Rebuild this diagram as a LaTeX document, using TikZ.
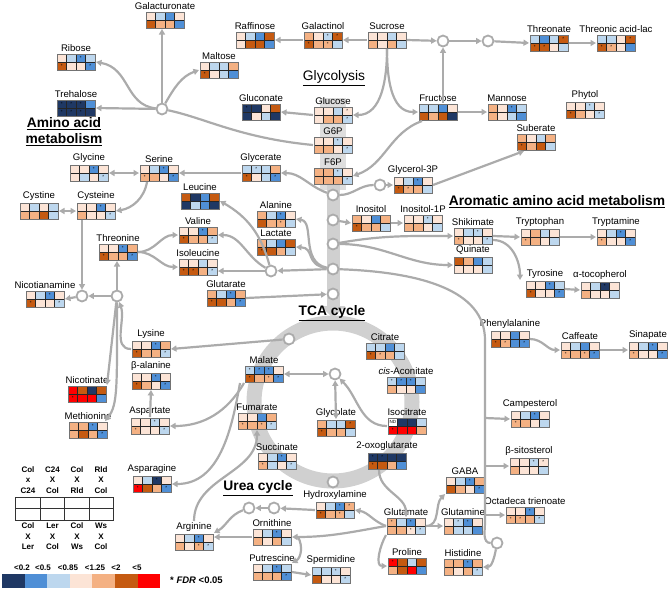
\documentclass[tikz,border=0pt]{standalone}
\usepackage{fontspec}
\setmainfont{Liberation Sans}
\usetikzlibrary{arrows.meta,calc}
\definecolor{hmA}{HTML}{1F3864}\definecolor{hma}{HTML}{1F3864}
\definecolor{hmB}{HTML}{4F8FD6}\definecolor{hmb}{HTML}{4F8FD6}
\definecolor{hmC}{HTML}{BDD7EE}\definecolor{hmc}{HTML}{BDD7EE}
\definecolor{hmD}{HTML}{FCE4D6}\definecolor{hmd}{HTML}{FCE4D6}
\definecolor{hmE}{HTML}{F4B183}\definecolor{hme}{HTML}{F4B183}
\definecolor{hmF}{HTML}{C55A11}\definecolor{hmf}{HTML}{C55A11}
\definecolor{hmG}{HTML}{FF0000}\definecolor{hmg}{HTML}{FF0000}
\definecolor{hmN}{HTML}{FFFFFF}
\definecolor{arrowgray}{HTML}{ABABAB}
\definecolor{bandgray}{HTML}{D0D0D0}
\def\hmTa{*}\def\hmTb{*}\def\hmTc{*}\def\hmTd{*}\def\hmTe{*}\def\hmTf{*}\def\hmTg{*}\def\hmTN{ND}
\tikzset{
  conn/.style={draw=arrowgray, line width=2.2pt, -{Triangle[length=5.5pt,width=6pt]}},
  conntwo/.style={draw=arrowgray, line width=2.2pt, {Triangle[length=5.5pt,width=6pt]}-{Triangle[length=5.5pt,width=6pt]}},
  plain/.style={draw=arrowgray, line width=2.2pt},
  hub/.style={circle, draw=arrowgray, fill=white, line width=1.8pt, minimum size=11pt, inner sep=0pt},
  hmbox/.style={minimum width=38pt, minimum height=16pt, inner sep=0pt, outer sep=1pt},
  lbl/.style={font=\fontsize{9.6}{10}\selectfont, inner sep=1pt},
  head/.style={font=\fontsize{13.8}{16}\selectfont\bfseries, align=center, inner sep=0pt},
  startxt/.style={font=\fontsize{4.5}{4.5}\selectfont, inner sep=0pt},
  cellline/.style={draw=black!85, line width=0.5pt},
  boxframe/.style={draw=black!55, line width=1pt},
  legtxt/.style={font=\fontsize{8}{10.5}\selectfont\bfseries, align=center, inner sep=0pt},
}
\newcommand\hmcell[3]{%
  \fill[hm#3] (#1,#2) rectangle ++(9.5,8);
  \ifcsname hmT#3\endcsname
    \node[startxt] at (#1+4.75,#2+4.2) {\csname hmT#3\endcsname};
  \fi}
\newcommand\hm[6]{%
  \node[hmbox, label={[lbl]above:#4}] (#1) at (#2+19,#3+8) {};
  \foreach \cc [count=\ii from 0] in {#5} {\hmcell{#2+\ii*9.5}{#3}{\cc}}
  \foreach \cc [count=\ii from 0] in {#6} {\hmcell{#2+\ii*9.5}{#3+8}{\cc}}
  \foreach \kk in {1,2,3} {\draw[cellline] (#2+\kk*9.5,#3) -- ++(0,16);}
  \draw[cellline] (#2,#3+8) -- ++(38,0);
  \draw[boxframe] (#2,#3) rectangle (#2+38,#3+16);
}
\begin{document}
\begin{tikzpicture}[x=1pt,y=-1pt]
\useasboundingbox (0,0) rectangle (669,590);
% ---- trunk and TCA ring
\fill[bandgray!70] (320,98) rectangle (346,190);
\draw[bandgray, line width=15pt] (333,402) circle (79);
\draw[bandgray, line width=13pt, -{Triangle[length=12pt,width=24pt]}] (333,185) -- (333,318);
% ---- hubs
\node[hub] (hsa) at (443,41) {};
\node[hub] (hsb) at (488,41) {};
\node[hub] (htre) at (162,109) {};
\node[hub] (hgp) at (380,185) {};
\node[hub] (ta) at (333,195) {};
\node[hub] (tb) at (333,220) {};
\node[hub] (tc) at (333,244) {};
\node[hub] (td) at (333,269) {};
\node[hub] (te) at (333,294) {};
\node[hub] (hbc) at (271,271) {};
\node[hub] (hasp) at (117,296) {};
\node[hub] (hnic) at (82,296) {};
\node[hub] (htca) at (289,339) {};
\node[hub] (hgly) at (335,374) {};
\node[hub] (hua) at (249,508) {};
\node[hub] (hub) at (274,508) {};
\node[hub] (hbot) at (333,482) {};
\node[hub] (hright) at (497,543) {};
% ---- headings
\node[head] (hglyc) at (334,78) {\mdseries\underline{Glycolysis}};
\node[head] (hamino) at (64,132) {\underline{Amino acid}\\[0pt]\underline{metabolism}};
\node[head] (harom) at (557,202) {\underline{Aromatic amino acid metabolism}};
\node[head] (htcac) at (332,313) {\underline{TCA cycle}};
\node[head] (hurea) at (258,488) {\underline{Urea cycle}};
% ---- heatmaps
\hm{galacturonate}{146}{12}{Galacturonate}{D,C,B,D}{F,E,E,B}
\hm{ribose}{57}{54}{Ribose}{D,C,b,C}{f,D,D,b}
\hm{trehalose}{57}{100}{Trehalose}{a,a,a,B}{a,a,a,A}
\hm{raffinose}{236}{32}{Raffinose}{D,C,B,F}{D,F,F,B}
\hm{galactinol}{304}{32}{Galactinol}{E,D,c,f}{f,E,e,C}
\hm{sucrose}{368}{32}{Sucrose}{D,D,C,D}{E,D,E,C}
\hm{threonate}{530}{35}{Threonate}{C,B,C,f}{f,f,D,C}
\hm{threonic}{597}{35}{Threonic acid-lac}{C,C,D,f}{f,e,D,B}
\hm{maltose}{200}{62}{Maltose}{D,C,C,E}{f,D,C,B}
\hm{gluconate}{242}{104}{Gluconate}{a,A,D,F}{A,D,C,A}
\hm{glucose}{314}{107}{Glucose}{D,D,C,d}{D,E,E,c}
\hm{gsixp}{314}{137}{G6P}{D,D,c,D}{E,E,D,c}
\hm{fsixp}{314}{168}{F6P}{E,E,c,D}{E,E,E,c}
\hm{fructose}{419}{104}{Fructose}{C,C,B,D}{F,E,F,A}
\hm{mannose}{488}{104}{Mannose}{E,D,b,C}{E,D,C,B}
\hm{phytol}{566}{102}{Phytol}{D,D,c,D}{f,E,D,c}
\hm{suberate}{517}{134}{Suberate}{E,D,C,E}{f,E,F,C}
\hm{glycerolp}{394}{177}{Glycerol-3P}{D,C,b,D}{f,e,E,C}
\hm{glycine}{70}{165}{Glycine}{D,D,b,D}{D,C,D,c}
\hm{serine}{140}{165}{Serine}{D,C,b,D}{e,E,D,b}
\hm{glycerate}{242}{165}{Glycerate}{C,c,C,E}{f,D,C,b}
\hm{leucine}{181}{193}{Leucine}{F,A,B,F}{A,C,B,A}
\hm{cystine}{20}{203}{Cystine}{D,C,D,C}{E,E,F,C}
\hm{cysteine}{77}{203}{Cysteine}{D,D,b,D}{E,D,D,c}
\hm{alanine}{257}{211}{Alanine}{E,C,b,D}{F,E,e,C}
\hm{inositol}{352}{215}{Inositol}{E,D,B,E}{f,E,E,C}
\hm{inositolp}{404}{215}{Inositol-1P}{D,D,c,D}{E,E,D,C}
\hm{valine}{179}{227}{Valine}{D,D,b,E}{f,E,E,c}
\hm{shikimate}{454}{228}{Shikimate}{D,C,c,D}{e,D,D,c}
\hm{tryptophan}{521}{229}{Tryptophan}{D,E,C,D}{e,E,D,C}
\hm{tryptamine}{597}{229}{Tryptamine}{D,C,b,D}{e,D,D,b}
\hm{lactate}{257}{239}{Lactate}{E,C,B,F}{f,F,E,C}
\hm{threonine}{99}{244}{Threonine}{D,D,b,E}{f,E,E,b}
\hm{quinate}{454}{257}{Quinate}{F,E,B,C}{D,D,D,C}
\hm{isoleucine}{179}{259}{Isoleucine}{D,D,C,D}{f,f,E,c}
\hm{tyrosine}{526}{281}{Tyrosine}{D,D,b,C}{f,D,D,b}
\hm{tocopherol}{581}{282}{α-tocopherol}{D,C,a,D}{E,D,D,C}
\hm{glutarate}{207}{290}{Glutarate}{E,C,b,E}{f,F,E,b}
\hm{nicotianamine}{26}{291}{Nicotianamine}{D,C,b,D}{f,D,D,c}
\hm{phenylalanine}{491}{331}{Phenylalanine}{D,D,B,D}{f,e,B,b}
\hm{lysine}{132}{341}{Lysine}{D,D,b,E}{f,E,E,c}
\hm{caffeate}{561}{342}{Caffeate}{D,C,B,D}{e,E,e,b}
\hm{sinapate}{629}{342}{Sinapate}{D,C,b,D}{e,D,D,b}
\hm{citrate}{366}{343}{Citrate}{C,C,B,C}{f,e,E,C}
\hm{malate}{245}{366}{Malate}{c,b,b,D}{f,E,e,b}
\hm{betaala}{132}{373}{β-alanine}{D,D,b,D}{f,E,D,b}
\hm{cisacon}{387}{377}{\textit{cis}-Aconitate}{c,b,b,C}{E,D,D,B}
\hm{nicotinate}{68}{386}{Nicotinate}{G,F,A,F}{g,G,G,B}
\hm{campesterol}{511}{411}{Campesterol}{D,C,b,D}{e,E,D,C}
\hm{fumarate}{238}{413}{Fumarate}{D,D,B,E}{e,E,e,c}
\hm{aspartate}{131}{418}{Aspartate}{D,D,c,D}{e,D,D,c}
\hm{isocitrate}{388}{418}{Isocitrate}{N,A,A,C}{g,G,G,E}
\hm{glycolate}{317}{420}{Glycolate}{E,C,C,f}{f,E,E,C}
\hm{methionine}{69}{422}{Methionine}{E,E,b,D}{E,F,E,b}
\hm{succinate}{258}{453}{Succinate}{D,C,b,D}{e,C,D,c}
\hm{oxoglut}{368}{453}{2-oxoglutarate}{a,a,A,A}{f,F,E,B}
\hm{sitosterol}{510}{458}{β-sitosterol}{D,D,c,d}{E,D,D,C}
\hm{asparagine}{133}{476}{Asparagine}{D,C,a,D}{g,F,E,b}
\hm{gaba}{446}{477}{GABA}{D,C,b,E}{F,E,D,b}
\hm{hydroxyl}{316}{502}{Hydroxylamine}{D,C,b,e}{f,E,e,C}
\hm{octadeca}{506}{507}{Octadeca trienoate}{D,D,b,D}{e,e,E,c}
\hm{glutamate}{387}{518}{Glutamate}{e,C,b,D}{E,E,d,c}
\hm{glutamine}{444}{518}{Glutamine}{D,c,b,D}{E,C,C,B}
\hm{ornithine}{253}{529}{Ornithine}{D,C,b,D}{E,D,E,C}
\hm{arginine}{175}{534}{Arginine}{D,C,b,D}{E,D,e,c}
\hm{proline}{388}{558}{Proline}{g,F,C,F}{E,F,G,B}
\hm{histidine}{444}{559}{Histidine}{E,E,b,E}{E,D,E,c}
\hm{putrescine}{253}{564}{Putrescine}{D,C,b,C}{E,E,E,b}
\hm{spermidine}{312}{567}{Spermidine}{C,C,c,D}{F,D,D,c}
% ---- connectors: sugars
\draw[conn] (sucrose.west) -- (galactinol.east);
\draw[conn] (galactinol.west) -- (raffinose.east);
\draw[conn] (sucrose.east) -- (hsa);
\draw[conn] (hsa) -- (hsb);
\draw[conn] (hsb) -- (threonate.west);
\draw[conn] (threonate.east) -- (threonic.west);
\draw[conn] (hsa |- fructose.north) -- (hsa);
\draw[conn] (sucrose.south) to[out=-90,in=0] (glucose.east);
\draw[conn] (sucrose.south) to[out=-90,in=180] (fructose.west);
\draw[conn] (fructose.east) -- (mannose.west);
\draw[conn] ([xshift=4pt]fructose.south west) to[out=200,in=20] (fsixp.east);
\draw[conn] (glucose.west) -- (gluconate.east);
\draw[plain] (gsixp.west) .. controls (240,138) and (205,118) .. (htre);
\draw[conn] (htre) -- (trehalose.east);
\draw[conn] (htre) .. controls (125,105) and (130,68) .. (ribose.east);
\draw[conn] (htre) -- (htre |- galacturonate.south);
\draw[conn] (htre) to[out=60,in=200] (maltose.west);
\draw[plain] (ta) to[out=0,in=180] (hgp);
\draw[conn] (hgp) -- (glycerolp.west);
\draw[conn] (glycerolp.east) -- ([xshift=8pt]suberate.south west);
% ---- amino acids
\draw[conn] (ta) to[out=160,in=0] (glycerate.east);
\draw[conn] (glycerate.west) -- (serine.east);
\draw[conntwo] (glycine.east) -- (serine.west);
\draw[conn] ([xshift=8pt]serine.south west) to[out=-100,in=10] (cysteine.east);
\draw[conntwo] (cystine.east) -- (cysteine.west);
\draw[conn] (hnic |- cysteine.south) -- (hnic);
\draw[conn] (hasp) -- (hnic);
\draw[conn] (hnic) -- (nicotianamine.east);
\draw[conn] (hasp) -- (hasp |- threonine.south);
\draw[conn] (threonine.east) to[out=0,in=180] (valine.west);
\draw[conn] (threonine.east) to[out=0,in=180] (isoleucine.west);
\draw[conn] (td) -- (hbc);
\draw[conn] (hbc) -- (hbc -| isoleucine.east);
\draw[conn] (hbc) to[out=150,in=0] (valine.east);
\draw[conn] (hbc) to[out=105,in=-30] (leucine.east);
\draw[conn] (td) .. controls (300,262) and (315,222) .. (alanine.east);
\draw[conn] (td) .. controls (305,265) and (315,248) .. (lactate.east);
\draw[conn] (tb) -- (inositol.west);
\draw[conn] (inositol.east) -- (inositolp.west);
\draw[conn] (tc) to[out=10,in=180] (shikimate.west);
\draw[conn] (tc) to[out=0,in=180] (quinate.west);
\draw[conn] (shikimate.east) -- (tryptophan.west);
\draw[conn] (tryptophan.east) -- (tryptamine.west);
\draw[conn] ([yshift=-4pt]shikimate.east) to[out=0,in=90] ([xshift=-5pt]tyrosine.north west);
\draw[conn] (tyrosine.east) -- (tocopherol.west);
\draw[conn] (phenylalanine.east) to[out=0,in=180] (caffeate.west);
\draw[conn] (caffeate.east) -- (sinapate.west);
\draw[conn] (glutarate.east) -- (te);
\draw[conn] (htca) -- (lysine.east);
\draw[conn] (lysine.west) to[out=180,in=-70] (hasp);
\draw[conn] (hasp) -- (nicotinate.north east);
\draw[conn] (hasp) .. controls (117,385) and (118,405) .. ([xshift=-3pt]methionine.north east);
\draw[conn] (aspartate.north) -- (betaala.south);
% ---- right line
\draw[plain] (td) .. controls (420,272) and (485,290) .. (485,340) -- (485,522) to[out=-90,in=180] (hright);
\draw[conn] (485,418) -- (campesterol.west);
\draw[conn] (485,466) -- (sitosterol.west);
\draw[conn] (485,515) -- (octadeca.west);
% ---- TCA
\draw[conntwo] (malate.east) -- (hgly);
\draw[conntwo] (hgly) -- (glycolate.north);
\draw[conn] (isocitrate.west) to[out=180,in=-45] (hgly);
\draw[conn] ([xshift=-8pt]oxoglut.south) to[out=-90,in=90] (glutamate.north);
\draw[conn] (glutamate.west) to[out=160,in=-10] (hydroxyl.east);
\draw[conn] (glutamate.east) to[out=0,in=-135] (gaba.south west);
\draw[conn] (glutamate.east) -- (glutamine.west);
\draw[conn] (glutamate.south west) to[out=-120,in=180] (proline.west);
\draw[conn] (hright) to[out=-100,in=0] (histidine.east);
\draw[conn] (glutamate.west) to[out=190,in=0] (ornithine.east);
\draw[conn] ([xshift=6pt]ornithine.east) to[out=-60,in=30] (putrescine.north east);
\draw[conn] (ornithine.west) -- (ornithine.west -| arginine.east);
\draw[conn] (hydroxyl.west) -- (hub);
\draw[conn] (hub) -- (hua);
\draw[conn] (hua) to[out=200,in=30] (arginine.north east);
\draw[conn] ([yshift=12pt]arginine.north) to[out=90,in=-90] (fumarate.south);
\draw[conn] (putrescine.east) -- (spermidine.west);
\draw[conn] (malate.south west) to[out=-120,in=0] (aspartate.east);
\draw[conn] ([xshift=-4pt]malate.south west) to[out=-100,in=0] (asparagine.east);
% ---- legend
\node[legtxt] (lta) at (28,480) {Col\\x\\C24};
\node[legtxt] (ltb) at (52.5,480) {C24\\X\\Col};
\node[legtxt] (ltc) at (77,480) {Col\\X\\Rld};
\node[legtxt] (ltd) at (101,480) {Rld\\X\\Col};
\node[legtxt] (lba) at (28,536.5) {Col\\X\\Ler};
\node[legtxt] (lbb) at (52.5,536.5) {Ler\\X\\Col};
\node[legtxt] (lbc) at (77,536.5) {Col\\X\\Ws};
\node[legtxt] (lbd) at (101,536.5) {Ws\\X\\Col};
\draw[black!80, line width=1pt] (15.7,497.5) rectangle (113.3,520);
\draw[black!80, line width=0.8pt] (15.7,508.7) -- (113.3,508.7);
\foreach \k in {1,2,3} {\draw[black!80, line width=0.8pt] (15.7+\k*24.4,497.5) -- ++(0,22.5);}
\foreach \cl [count=\k from 0] in {A,B,C,D,E,F,G} {\fill[hm\cl] (2+\k*22.6,574) rectangle ++(22.6,14);}
\node[legtxt] (sa) at (22,568) {<0.2};
\node[legtxt] (sb) at (43,568) {<0.5};
\node[legtxt] (sc) at (68,568) {<0.85};
\node[legtxt] (sd) at (95,568) {<1.25};
\node[legtxt] (se) at (116,568) {<2};
\node[legtxt] (sf) at (137,568) {<5};
\node[font=\fontsize{9.5}{10}\selectfont\bfseries, anchor=west, inner sep=0pt] (fdr) at (170,580) {* \textit{FDR} <0.05};
\end{tikzpicture}
\end{document}
